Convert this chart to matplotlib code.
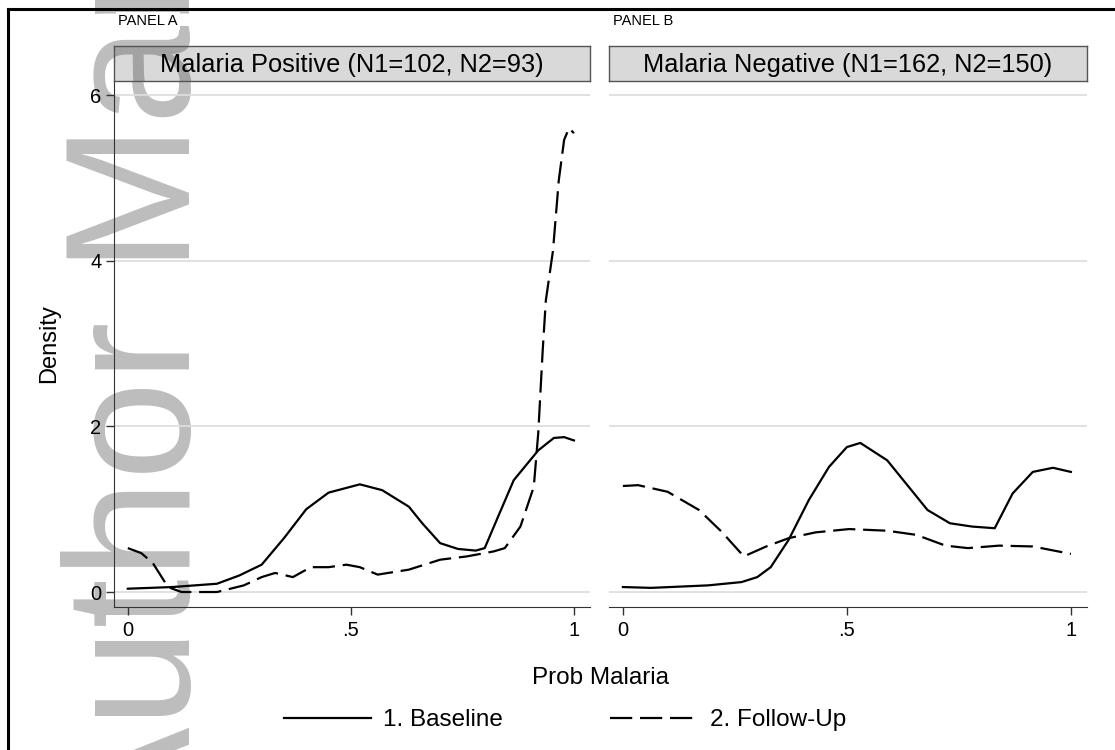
import matplotlib
matplotlib.use("Agg")
import matplotlib.pyplot as plt
from matplotlib.lines import Line2D
from matplotlib.patches import PathPatch
from matplotlib.textpath import TextPath
from matplotlib.font_manager import FontProperties
from matplotlib.transforms import Affine2D

plt.rcParams['font.family'] = ['Liberation Sans', 'DejaVu Sans']

# panel A - malaria positive
pos_base_x = [0, 0.1, 0.2, 0.25, 0.30, 0.35, 0.40, 0.45, 0.52, 0.57, 0.63, 0.66, 0.70, 0.74, 0.78, 0.80,
              0.83, 0.865, 0.92, 0.955, 0.978, 1.0]
pos_base_y = [0.04, 0.06, 0.10, 0.20, 0.33, 0.65, 1.0, 1.2, 1.30, 1.23, 1.03, 0.83, 0.59, 0.52, 0.50, 0.53,
              0.91, 1.35, 1.71, 1.86, 1.87, 1.83]
pos_fu_x = [0, 0.03, 0.056, 0.09, 0.12, 0.2, 0.26, 0.30, 0.33, 0.37, 0.41, 0.45, 0.49, 0.52, 0.56, 0.63,
            0.70, 0.76, 0.82, 0.845, 0.88, 0.91, 0.92, 0.93, 0.937, 0.953, 0.966, 0.978, 0.989, 1.0]
pos_fu_y = [0.53, 0.47, 0.35, 0.06, 0.0, 0.0, 0.08, 0.18, 0.23, 0.18, 0.30, 0.30, 0.33, 0.30, 0.21, 0.27,
            0.39, 0.43, 0.49, 0.53, 0.79, 1.27, 1.92, 2.92, 3.52, 4.12, 4.97, 5.46, 5.6, 5.54]

# panel B - malaria negative
neg_base_x = [0, 0.063, 0.19, 0.265, 0.30, 0.33, 0.37, 0.415, 0.46, 0.50, 0.53, 0.59, 0.68, 0.73, 0.78,
              0.83, 0.87, 0.915, 0.96, 1.0]
neg_base_y = [0.06, 0.05, 0.08, 0.12, 0.18, 0.30, 0.63, 1.11, 1.51, 1.75, 1.80, 1.59, 0.99, 0.83, 0.79,
              0.77, 1.19, 1.45, 1.50, 1.45]
neg_fu_x = [0, 0.034, 0.10, 0.17, 0.22, 0.27, 0.32, 0.37, 0.43, 0.505, 0.59, 0.655, 0.72, 0.77, 0.84,
            0.915, 1.0]
neg_fu_y = [1.28, 1.29, 1.21, 0.99, 0.73, 0.43, 0.55, 0.65, 0.72, 0.76, 0.74, 0.69, 0.56, 0.53, 0.56,
            0.55, 0.46]

panel_tags = ["PANEL A", "PANEL B"]
strip_titles = ["Malaria Positive (N1=102, N2=93)", "Malaria Negative (N1=162, N2=150)"]
series_names = ["1. Baseline", "2. Follow-Up"]
xticks = [0, 0.5, 1]
xtick_labels = ["0", ".5", "1"]
yticks = [0, 2, 4, 6]

W, H = 1115, 750
fig = plt.figure(figsize=(W / 100, H / 100), dpi=100)

wm_text = "Author Manuscript"
wm_x, wm_y = 190, 845   # baseline start, pixels from top-left
wm_size = 128

# watermark behind everything
fig.text(wm_x / W, 1 - wm_y / H, wm_text, rotation=90, rotation_mode='anchor', ha='left',
         va='baseline', fontsize=wm_size, color='#bdbdbd', zorder=-10)

# frame lines (top and left only visible)
fig.add_artist(Line2D([8 / W, 1], [1 - 9 / H, 1 - 9 / H], color='black', lw=2.2))
fig.add_artist(Line2D([8 / W, 8 / W], [0, 1 - 9 / H], color='black', lw=2.2))

dash = (0, (10, 3.5))
lefts = [114, 609]
rights = [590, 1087]
ax_top, ax_bot = 81, 607
strip_top = 46
data = [(pos_base_x, pos_base_y, pos_fu_x, pos_fu_y), (neg_base_x, neg_base_y, neg_fu_x, neg_fu_y)]

for i in range(2):
    l, r = lefts[i], rights[i]
    ax = fig.add_axes([l / W, 1 - ax_bot / H, (r - l) / W, (ax_bot - ax_top) / H])
    ax.set_facecolor('none')
    bx, by, fx, fy = data[i]
    ax.plot(bx, by, color='black', lw=1.6, solid_joinstyle='round')
    ax.plot(fx, fy, color='black', lw=1.6, linestyle=dash)
    ax.set_xlim(-0.031, 1.036)
    ax.set_ylim(-0.181, 6.17)
    ax.set_yticks(yticks)
    ax.set_xticks(xticks)
    ax.set_xticklabels(xtick_labels)
    ax.yaxis.grid(True, color='#dedede', lw=1.3)
    ax.set_axisbelow(True)
    for s in ['top', 'right']:
        ax.spines[s].set_visible(False)
    ax.spines['bottom'].set_color('#333333')
    ax.tick_params(axis='x', length=6, width=1, color='#333333', labelsize=14.5, pad=4)
    if i == 0:
        ax.spines['left'].set_color('#333333')
        ax.tick_params(axis='y', length=6, width=1, color='#333333', labelsize=14.5, pad=3)
        ax.set_ylabel("Density", fontsize=17, labelpad=22)
    else:
        ax.spines['left'].set_visible(False)
        ax.tick_params(axis='y', length=0, labelleft=False)

    # strip
    sax = fig.add_axes([l / W, 1 - ax_top / H, (r - l) / W, (ax_top - strip_top) / H])
    sax.set_facecolor('#d9d9d9')
    sax.set_xticks([])
    sax.set_yticks([])
    for s in sax.spines.values():
        s.set_color('#555555')
        s.set_linewidth(1)
    # watermark darkens the grey strip where they overlap
    tp = TextPath((0, 0), wm_text, size=wm_size, prop=FontProperties(family='Liberation Sans'))
    tr = Affine2D().scale(100 / 72).rotate_deg(90).translate(wm_x, H - wm_y)
    sax.add_artist(PathPatch(tp, facecolor='#a3a3a3', edgecolor='none', transform=tr, zorder=0.5))
    sax.text(0.5, 0.45, strip_titles[i], ha='center', va='center', fontsize=18.3,
             transform=sax.transAxes, zorder=3)

    fig.text((l + 4) / W, 1 - 21 / H, panel_tags[i], fontsize=10.5, va='center', ha='left',
             bbox=dict(facecolor='white', edgecolor='none', pad=1.5))

fig.text(600 / W, 1 - 678 / H, "Prob Malaria", ha='center', va='center', fontsize=17.5)

handles = [Line2D([], [], color='black', lw=1.6),
           Line2D([], [], color='black', lw=1.6, linestyle=dash)]
fig.legend(handles, series_names, loc='center', bbox_to_anchor=(565 / W, 1 - 720 / H), ncol=2,
           frameon=False, fontsize=17.5, handlelength=3.6, handletextpad=0.5, columnspacing=4.4)

fig.savefig("out.png", dpi=100)
